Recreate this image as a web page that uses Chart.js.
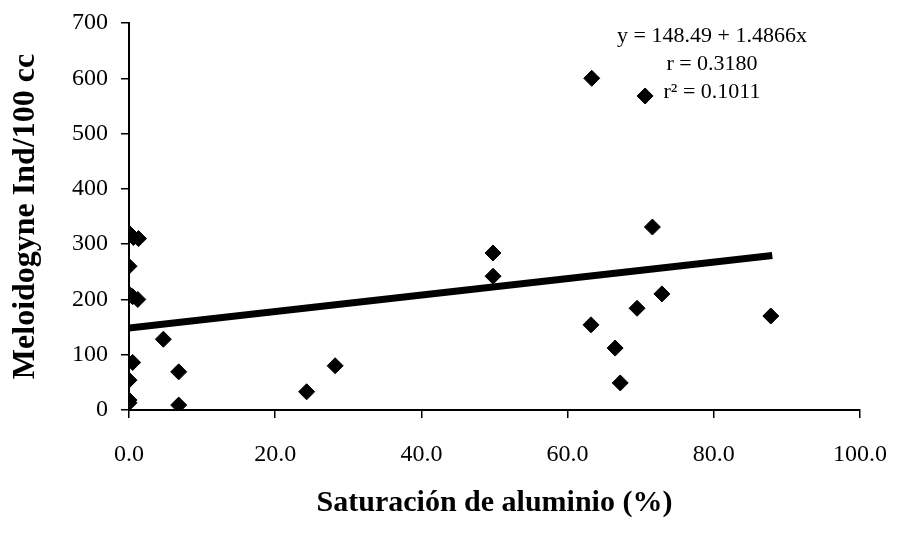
<!DOCTYPE html>
<html>
<head>
<meta charset="utf-8">
<script src="https://cdn.jsdelivr.net/npm/chart.js@4/dist/chart.umd.min.js"></script>
<style>
html,body{margin:0;padding:0;background:#fff;}
#wrap{width:897px;height:536px;position:relative;}
</style>
</head>
<body>
<div id="wrap"><canvas id="c" width="897" height="536"></canvas></div>
<script>
// Data
const satAluminio = [0, 0.6, 1.3, 0, 0, 0.5, 1.2, 4.7, 0.5, 6.8, 0, 0, 0, 6.8, 24.3, 28.2, 49.8, 49.8, 63.3, 70.6, 71.6, 72.9, 69.5, 63.2, 66.5, 67.2, 87.8];
const meloidogyne = [320, 312, 310, 260, 210, 205, 200, 128, 86, 69, 54, 18, 13, 9, 33, 80, 284, 242, 600, 568, 331, 210, 184, 154, 112, 49, 170];
const trendX = [0, 88];
const trendY = [148.5, 279.3];
const xTicks = [0, 20, 40, 60, 80, 100];
const yTicks = [0, 100, 200, 300, 400, 500, 600, 700];
const equationLines = ["y = 148.49 + 1.4866x", "r = 0.3180", "r\u00B2 = 0.1011"];
const xTitle = "Saturación de aluminio (%)";
const yTitle = "Meloidogyne Ind/100 cc";

const points = satAluminio.map((x, i) => ({x: x, y: meloidogyne[i]}));
const trend = trendX.map((x, i) => ({x: x, y: trendY[i]}));

const serif = "'Liberation Serif', 'Times New Roman', serif";

const annotationPlugin = {
  id: 'equation',
  afterDraw(chart) {
    const ctx = chart.ctx;
    ctx.save();
    ctx.fillStyle = '#000';
    ctx.font = "22px " + serif;
    ctx.textAlign = 'center';
    ctx.textBaseline = 'middle';
    const ys = [36, 64, 92];
    equationLines.forEach((t, i) => ctx.fillText(t, 712, ys[i]));
    ctx.restore();
  }
};
const bgPlugin = {
  id: 'bg',
  beforeDraw(chart) {
    const ctx = chart.ctx;
    ctx.save();
    ctx.fillStyle = '#fff';
    ctx.fillRect(0, 0, chart.width, chart.height);
    ctx.restore();
  }
};

new Chart(document.getElementById('c'), {
  type: 'scatter',
  data: {
    datasets: [
      {
        data: points,
        pointStyle: 'rectRot',
        pointRadius: 8,
        pointHoverRadius: 8,
        backgroundColor: '#000',
        borderColor: '#000',
        borderWidth: 1,
        order: 1
      },
      {
        type: 'line',
        data: trend,
        showLine: true,
        borderColor: '#000',
        borderWidth: 7,
        pointRadius: 0,
        fill: false,
        order: 2
      }
    ]
  },
  plugins: [bgPlugin, annotationPlugin],
  options: {
    responsive: false,
    animation: false,
    events: [],
    layout: {padding: {left: 0, right: 37, top: 23, bottom: 0}},
    plugins: {legend: {display: false}, tooltip: {enabled: false}},
    scales: {
      x: {
        type: 'linear',
        min: 0, max: 100,
        afterFit(s) { s.height = 126; s.paddingLeft = 0; s.paddingRight = 0; },
        afterBuildTicks(s) { s.ticks = xTicks.map(v => ({value: v})); },
        ticks: {
          color: '#000',
          font: {family: serif, size: 24},
          padding: 22,
          maxRotation: 0,
          callback: v => v.toFixed(1)
        },
        grid: {drawOnChartArea: false, drawTicks: true, tickLength: 8, color: '#000', lineWidth: 1.5},
        border: {display: true, color: '#000', width: 2},
        title: {
          display: true,
          text: xTitle,
          color: '#000',
          font: {family: serif, size: 30, weight: 'bold'},
          padding: {top: 0, bottom: 15}
        }
      },
      y: {
        type: 'linear',
        min: 0, max: 700,
        afterFit(s) { s.width = 129; s.paddingTop = 0; s.paddingBottom = 0; },
        afterBuildTicks(s) { s.ticks = yTicks.map(v => ({value: v})); },
        ticks: {
          color: '#000',
          font: {family: serif, size: 24},
          padding: 13
        },
        grid: {drawOnChartArea: false, drawTicks: true, tickLength: 8, color: '#000', lineWidth: 1.5},
        border: {display: true, color: '#000', width: 2},
        title: {
          display: true,
          text: yTitle,
          color: '#000',
          font: {family: serif, size: 32, weight: 'bold'},
          padding: {top: 7, bottom: 0}
        }
      }
    }
  }
});
</script>
</body>
</html>
